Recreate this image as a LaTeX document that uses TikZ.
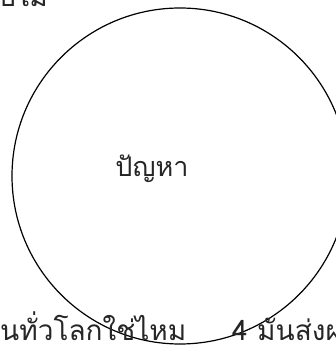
\documentclass[tikz,border=0pt]{standalone}
\usepackage{fontspec}
\newfontfamily\thaifont[Script=Thai]{Loma}
\begin{document}
\begin{tikzpicture}[x=1pt,y=1pt,
  lbl/.style={font=\thaifont\fontsize{28}{32}\selectfont, inner sep=0pt, text=black!85},
  ring/.style={draw=black, line width=1.2pt}]
\useasboundingbox (0,0) rectangle (336,345);
\clip (0,0) rectangle (336,345);
\node[ring, circle, minimum size=336pt, inner sep=0pt] (c) at (180,169) {};
\node[lbl, font=\thaifont\fontsize{27}{31}\selectfont, anchor=base] (p) at (152,168) {ปัญหา};
\node[lbl, anchor=base west] (t1) at (0,5) {นทั่วโลกใช่ไหม};
\node[lbl, anchor=base west] (t2) at (232,5) {4 มันส่งผล};
\node[lbl, anchor=base east] (t0) at (48,338) {ปใม};
\end{tikzpicture}
\end{document}
